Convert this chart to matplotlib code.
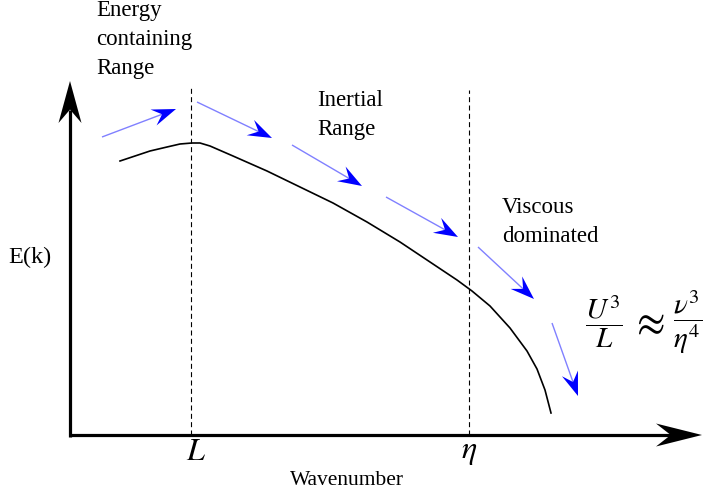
import numpy as np
import matplotlib.pyplot as plt
from matplotlib.patches import Polygon

plt.rcParams['font.family'] = ['Liberation Serif', 'DejaVu Serif']
plt.rcParams['mathtext.fontset'] = 'stix'

# energy spectrum sketch, origin of the axes at (0, 0)
curve_k = [50, 65, 80, 97, 110, 122, 130, 140, 163, 197, 230, 263, 297, 330,
           363, 387, 402, 420, 440, 457, 467, 475, 481]
curve_E = [274, 279, 284, 288, 291, 292, 292, 289, 279, 264, 248, 232, 213, 193,
           171, 155, 144, 129, 107, 84, 66, 45, 22]

# characteristic scales
scale_k = [121, 399]
scale_top = [347, 345]
scale_labels = [r'$L$', r'$\eta$']
label_k = [126, 399]

# energy cascade arrows (start, tip)
cascade_start = [(32, 298), (127, 333), (222, 290), (316, 238), (408, 188), (482, 112)]
cascade_tip = [(106, 326), (202, 297), (292, 249), (388, 198), (464, 136), (508, 39)]

x_axis_end = 632
y_axis_end = 354


def stealth(ax, start, tip, shaft_color, head_color, lw, head_len, head_w, notch_frac=0.68):
    start = np.asarray(start, float)
    tip = np.asarray(tip, float)
    d = tip - start
    d /= np.hypot(*d)
    n = np.array([-d[1], d[0]])
    back = tip - head_len * d
    notch = tip - notch_frac * head_len * d
    ax.plot([start[0], notch[0]], [start[1], notch[1]], color=shaft_color,
            lw=lw, solid_capstyle='butt', zorder=2)
    head = Polygon([tip, back + head_w * n, notch, back - head_w * n],
                   closed=True, facecolor=head_color, edgecolor='none', zorder=3)
    ax.add_patch(head)


fig = plt.figure(figsize=(7.04, 4.98), dpi=100)
ax = fig.add_axes([0, 0, 1, 1])
ax.set_xlim(-70, 634)
ax.set_ylim(-63, 435)
ax.axis('off')

# axes with arrow heads
stealth(ax, (0, 0), (x_axis_end, 0), 'black', 'black', 2.3, 46, 11.5)
stealth(ax, (0, -1.5), (0, y_axis_end), 'black', 'black', 2.3, 42, 11.5)

for k, top, lk, lab in zip(scale_k, scale_top, label_k, scale_labels):
    ax.plot([k, k], [0, top], color='black', lw=0.8, dashes=(4.5, 3))
    ax.text(lk, -17, lab, fontsize=23, ha='center', va='center')

ax.plot(curve_k, curve_E, color='black', lw=1.2, solid_joinstyle='round')

for s, t in zip(cascade_start, cascade_tip):
    stealth(ax, s, t, '#8080ff', '#0000ff', 1.0, 24, 8.5, 0.62)

ax.text(26, 435, 'Energy\ncontaining\nRange', fontsize=16.5, ha='left', va='top',
        linespacing=1.5)
ax.text(247, 345, 'Inertial\nRange', fontsize=16.5, ha='left', va='top',
        linespacing=1.5)
ax.text(432, 238, 'Viscous\ndominated', fontsize=16.5, ha='left', va='top',
        linespacing=1.5)
ax.text(-62, 178, 'E(k)', fontsize=17.5, ha='left', va='center')
ax.text(277, -45, 'Wavenumber', fontsize=15.5, ha='center', va='center')

# scale relation
ax.text(534, 113, r'$\dfrac{U^3}{L}$', fontsize=21, ha='center', va='center')
ax.text(577, 111, r'$\approx$', fontsize=30, ha='center', va='center')
ax.text(618, 113, r'$\dfrac{\nu^3}{\eta^4}$', fontsize=21, ha='center', va='center')

fig.savefig('out.png', dpi=100)
